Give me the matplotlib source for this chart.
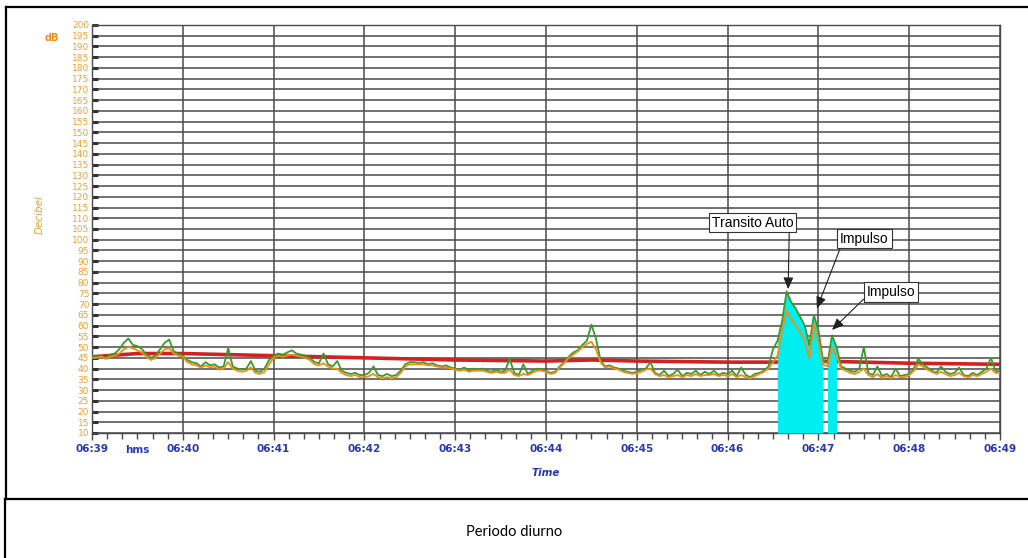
import numpy as np
import matplotlib.pyplot as plt
from matplotlib.lines import Line2D
from matplotlib.ticker import MultipleLocator, FuncFormatter
import matplotlib.transforms as mtransforms

# time in seconds from 06:39:00, one sample every 3 s
t_sec = list(range(0, 601, 3))

green_db = [
    46, 45.5, 46, 45, 46.5, 47, 49, 52, 54, 51, 50.5, 49, 46.5, 45, 46, 49, 52, 53.5, 48, 47,
    46, 44, 43, 42.5, 41, 43, 41.5, 42, 40.5, 41, 49.5, 41, 40, 39.5, 40, 43.5, 39, 38.5, 40, 44,
    46, 47, 46.5, 47.5, 48.5, 47, 46.5, 46, 45, 43, 42.5, 47, 42, 41, 43.5, 39, 38, 37.5, 38, 37,
    37, 38, 41, 37, 36.5, 37.5, 36.5, 37, 39, 42, 43, 43, 42.5, 43, 42, 42.5, 41.5, 41, 41.5, 40.5,
    40, 39.5, 40.5, 39, 40, 39.5, 40, 39, 38.5, 39.5, 38.5, 39, 44.5, 38, 37, 42, 37.5, 39, 40, 39.5,
    39, 38, 38.5, 41, 43, 45.5, 47.5, 48.5, 51, 53, 60.5, 54, 44, 41, 41.5, 40.5, 40, 39, 38.5, 38,
    38.5, 39.5, 40, 43, 38, 37, 39, 36.5, 37.5, 39.5, 36.5, 38, 37.5, 39, 37, 38.5, 37.5, 39, 37, 38,
    37.5, 39, 36.5, 40.5, 37, 36, 37.5, 38, 39, 41, 49, 53, 62, 76, 71, 68, 64, 60, 51, 65,
    58, 44, 42.5, 55.5, 50, 41, 40, 39, 38.5, 40, 50, 38, 37, 41, 36.5, 37.5, 36, 40, 36.5, 37,
    37.5, 40, 44.5, 42, 40.5, 39, 38, 41, 38.5, 37.5, 38, 40.5, 37, 36.5, 38, 37, 38.5, 40, 45, 39,
    38.5,
]

orange_db = [
    45, 45, 45.5, 44.5, 45.5, 46, 47, 49, 50, 49.5, 48.5, 47.5, 45.5, 44, 45, 47, 49, 49.5, 47, 46,
    45.5, 43, 42, 41.5, 40.5, 41.5, 40.5, 41, 39.5, 40, 43, 40, 39, 38.5, 39, 40.5, 38, 37.5, 38.5, 42,
    45, 46, 45.5, 46, 46.5, 46, 45.5, 45, 44, 42, 41.5, 42.5, 41, 40, 40, 38, 37, 36.5, 37, 36,
    36, 36.5, 37.5, 36, 35.5, 36, 35.5, 36, 38, 41, 42, 42, 42, 42, 41.5, 41.5, 41, 40.5, 40.5, 40,
    39.5, 39, 39.5, 38.5, 39, 39, 39, 38.5, 38, 38.5, 38, 38, 39.5, 37, 36.5, 37.5, 37, 38, 39, 39,
    38.5, 37.5, 38, 40.5, 42.5, 45, 46.5, 48, 50, 51.5, 52.5, 49, 43, 40.5, 41, 40, 39.5, 38.5, 38, 37.5,
    38, 38.5, 39.5, 40, 37.5, 36.5, 37, 36, 36.5, 37, 36, 37, 36.5, 37.5, 36.5, 37, 37, 37.5, 36.5, 37,
    36.5, 37.5, 36, 37, 36, 35.5, 36.5, 37.5, 38.5, 40, 43, 46, 58, 67, 63, 60, 57, 53, 45, 61,
    53, 42, 41, 50, 46, 40, 39, 38, 37.5, 38.5, 40, 37, 36, 37.5, 35.5, 36.5, 35.5, 37, 36, 36,
    37, 39, 42, 41, 39.5, 38.5, 37.5, 38.5, 37.5, 36.5, 37, 38, 36.5, 36, 37, 36.5, 37.5, 38.5, 40, 38,
    38,
]

leq_t = [0, 30, 60, 120, 180, 240, 300, 330, 360, 420, 450, 480, 540, 600]
leq_db = [45.5, 47, 47, 46, 45, 44, 43.5, 44, 43.5, 43, 43, 43.5, 42.5, 42]

# marked events (s)
event_ranges = [(453, 483), (486, 492)]

minute_ticks = list(range(0, 601, 60))
y_ticks = list(range(10, 201, 5))

orange_lbl = '#f0a030'
blue_lbl = '#2838b0'
grid_c = '#4a4a4a'

fig = plt.figure(figsize=(10.28, 5.58), dpi=100)
ax = fig.add_axes([92 / 1028, 1 - 433 / 558, 908 / 1028, 408 / 558])

t = np.array(t_sec)
g = np.array(green_db)
o = np.array(orange_db)

ax.plot(leq_t, leq_db, color='#d42020', lw=2.6, zorder=2)
for a, b in event_ranges:
    m = (t >= a) & (t <= b)
    ax.fill_between(t[m], 10, g[m], color='#00eef0', lw=0, zorder=3)
ax.plot(t, g, color='#3a9a2a', lw=1.3, zorder=4)
ax.plot(t, o, color='#f08c18', lw=1.3, zorder=5)

ax.set_xlim(0, 600)
ax.set_ylim(10, 200)
ax.set_xticks(minute_ticks)
ax.xaxis.set_minor_locator(MultipleLocator(10))
ax.xaxis.set_major_formatter(FuncFormatter(lambda s, p: f"06:{39 + int(round(s / 60)):02d}"))
ax.set_yticks(y_ticks)
ax.grid(True, which='major', color=grid_c, lw=1.1)
ax.set_axisbelow(True)

ax.tick_params(axis='x', which='major', direction='out', length=5, width=1, color=grid_c,
               labelsize=7.5, labelcolor=blue_lbl, pad=3)
ax.tick_params(axis='x', which='minor', direction='out', length=4, width=1, color=grid_c)
ax.tick_params(axis='y', direction='in', length=4, width=2.2, color='#333333',
               labelsize=6.5, labelcolor=orange_lbl, pad=2)
for lbl in ax.get_xticklabels():
    lbl.set_fontweight('bold')
for sp in ax.spines.values():
    sp.set_color(grid_c)
    sp.set_linewidth(1)

trans = mtransforms.blended_transform_factory(ax.transData, ax.transAxes)
ax.text(30, -0.042, 'hms', transform=trans, ha='center', va='center',
        fontsize=7.5, color=blue_lbl, fontweight='bold')
ax.text(0.5, -0.098, 'Time', transform=ax.transAxes, ha='center', va='center',
        fontsize=7.5, color=blue_lbl, style='italic', fontweight='bold')
ytrans = mtransforms.blended_transform_factory(ax.transAxes, ax.transData)
ax.text(-0.036, 194, 'dB', transform=ytrans, ha='right', va='center',
        fontsize=7, color='#f08c18', fontweight='bold')
fig.text(40 / 1028, 1 - 215 / 558, 'Decibel', rotation=90, ha='center', va='center',
         fontsize=7.5, color=orange_lbl, style='italic')

box = dict(boxstyle='square,pad=0.2', fc='white', ec='#333333', lw=0.8)
arrow = dict(arrowstyle='-|>,head_length=0.7,head_width=0.3', color='#222222', lw=0.8,
             shrinkA=0, shrinkB=0)
ax.annotate('Transito Auto', xy=(460, 77), xytext=(436.5, 108), fontsize=10,
            family='Liberation Sans', ha='center', va='center', bbox=box,
            arrowprops=dict(arrow, relpos=(0.95, 0)), zorder=6)
ax.annotate('Impulso', xy=(479, 68), xytext=(510.5, 100.5), fontsize=10,
            family='Liberation Sans', ha='center', va='center', bbox=box,
            arrowprops=dict(arrow, relpos=(0.02, 0)), zorder=6)
ax.annotate('Impulso', xy=(489, 58), xytext=(528, 75.7), fontsize=10,
            family='Liberation Sans', ha='center', va='center', bbox=box,
            arrowprops=dict(arrow, relpos=(0, 0.2)), zorder=6)

# table frame around the picture and caption
def fline(x0, y0, x1, y1):
    fig.add_artist(Line2D([x0 / 1028, x1 / 1028], [1 - y0 / 558, 1 - y1 / 558],
                          color='black', lw=1.6))

fline(6, 7, 1028, 7)
fline(6, 7, 6, 499)
fline(5, 499, 1028, 499)
fline(5, 499, 5, 558)

fig.text(514 / 1028, 1 - 532 / 558, 'Periodo diurno', ha='center', va='center',
         fontsize=10.5, family='Lato', color='black')

fig.savefig('out.png', dpi=100)
